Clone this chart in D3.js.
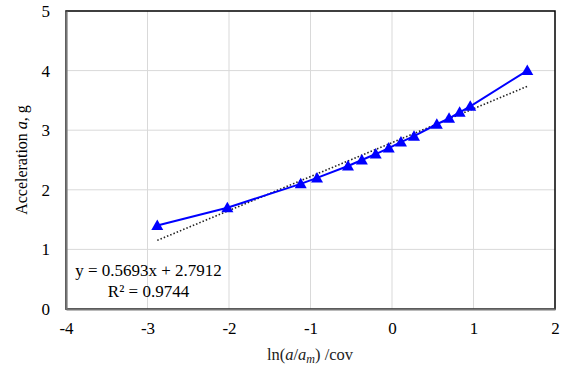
<!DOCTYPE html>
<html><head><meta charset="utf-8">
<script src="https://cdn.jsdelivr.net/npm/d3@7"></script>
<style>body{margin:0;background:#fff}svg{display:block}</style>
</head><body>
<svg id="c" width="567" height="367"></svg>
<script>
const xValues = [-2.88, -2.02, -1.12, -0.92, -0.54, -0.37, -0.20, -0.04, 0.11, 0.27, 0.55, 0.70, 0.83, 0.96, 1.66];
const yValues = [1.4, 1.7, 2.1, 2.2, 2.4, 2.5, 2.6, 2.7, 2.8, 2.9, 3.1, 3.2, 3.3, 3.4, 4.0];
const xTicks = [-4, -3, -2, -1, 0, 1, 2];
const yTicks = [0, 1, 2, 3, 4, 5];
const slope = 0.5693, intercept = 2.7912;
const eqLabel = "y = 0.5693x + 2.7912";
const r2Label = "R² = 0.9744";

const svg = d3.select("#c");
const L = 66, R = 555, T = 11, B = 309;
const x = d3.scaleLinear().domain([-4, 2]).range([L, R]);
const y = d3.scaleLinear().domain([0, 5]).range([B, T]);
const serif = "'Liberation Serif','Times New Roman',serif";

// gridlines
svg.append("g").selectAll("line").data(xTicks.slice(1, -1)).join("line")
  .attr("x1", d => x(d)).attr("x2", d => x(d)).attr("y1", T).attr("y2", B)
  .attr("stroke", "#d9d9d9").attr("stroke-width", 1);
svg.append("g").selectAll("line").data(yTicks.slice(1, -1)).join("line")
  .attr("y1", d => y(d)).attr("y2", d => y(d)).attr("x1", L).attr("x2", R)
  .attr("stroke", "#d9d9d9").attr("stroke-width", 1);

// frame
svg.append("rect").attr("x", L).attr("y", T).attr("width", R - L).attr("height", B - T)
  .attr("fill", "none").attr("stroke", "#000").attr("stroke-width", 1.5);

// axes via d3
const xAxis = svg.append("g").attr("transform", `translate(0,${B})`)
  .call(d3.axisBottom(x).tickValues(xTicks).tickSize(0).tickPadding(13).tickFormat(d => String(d)));
xAxis.select(".domain").attr("stroke", "#767676").attr("stroke-width", 2.2);
xAxis.selectAll("text").attr("font-family", serif).attr("font-size", 17).attr("fill", "#000");

const yAxis = svg.append("g").attr("transform", `translate(${L},0)`)
  .call(d3.axisLeft(y).tickValues(yTicks).tickSize(0).tickPadding(16).tickFormat(d => String(d)));
yAxis.select(".domain").attr("stroke", "#767676").attr("stroke-width", 2.2);
yAxis.selectAll("text").attr("font-family", serif).attr("font-size", 17).attr("fill", "#000");

// trendline
const xmin = d3.min(xValues), xmax = d3.max(xValues);
svg.append("line")
  .attr("x1", x(xmin)).attr("y1", y(slope * xmin + intercept))
  .attr("x2", x(xmax)).attr("y2", y(slope * xmax + intercept))
  .attr("stroke", "#222").attr("stroke-width", 1.6).attr("stroke-dasharray", "1.5,2");

// data line
const pts = xValues.map((v, i) => [v, yValues[i]]);
svg.append("path").datum(pts)
  .attr("d", d3.line().x(d => x(d[0])).y(d => y(d[1])))
  .attr("fill", "none").attr("stroke", "#0000ff").attr("stroke-width", 2);

// markers
svg.append("g").selectAll("path").data(pts).join("path")
  .attr("transform", d => `translate(${x(d[0])},${y(d[1])})`)
  .attr("d", "M0,-6 L6,4.5 L-6,4.5 Z")
  .attr("fill", "#0000ff");

// trendline label
svg.append("text").attr("x", 148.5).attr("y", 276).attr("text-anchor", "middle")
  .attr("font-family", serif).attr("font-size", 17).text(eqLabel);
svg.append("text").attr("x", 148.5).attr("y", 297).attr("text-anchor", "middle")
  .attr("font-family", serif).attr("font-size", 17).text(r2Label);

// x axis title
const xt = svg.append("text").attr("x", 310).attr("y", 360).attr("text-anchor", "middle")
  .attr("font-family", serif).attr("font-size", 16.5).attr("fill", "#222");
xt.append("tspan").text("ln(");
xt.append("tspan").attr("font-style", "italic").text("a");
xt.append("tspan").text("/");
xt.append("tspan").attr("font-style", "italic").text("a");
xt.append("tspan").attr("font-style", "italic").attr("font-size", 12).attr("dy", 3).text("m");
xt.append("tspan").attr("dy", -3).text(") /cov");

// y axis title
const yt = svg.append("text").attr("transform", "translate(27,160) rotate(-90)")
  .attr("text-anchor", "middle").attr("font-family", serif).attr("font-size", 16).attr("fill", "#000");
yt.append("tspan").text("Acceleration ");
yt.append("tspan").attr("font-style", "italic").text("a");
yt.append("tspan").text(", g");
</script>
</body></html>
